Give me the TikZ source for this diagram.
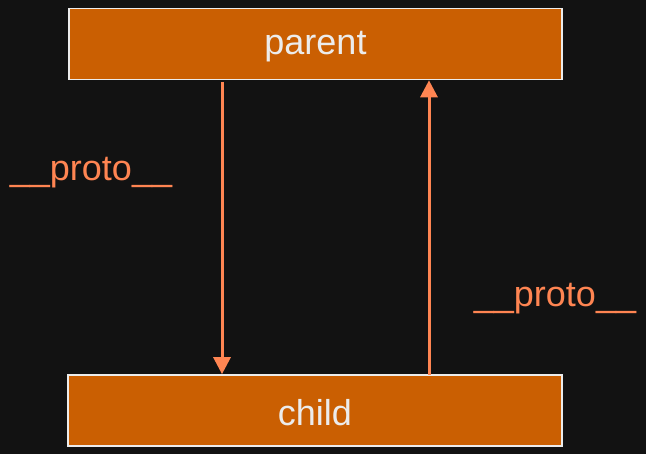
\documentclass[tikz,border=0pt]{standalone}
\usepackage{fontspec}
\setmainfont{Liberation Sans}
\usetikzlibrary{arrows.meta}
\definecolor{bgdark}{HTML}{121212}
\definecolor{boxfill}{HTML}{CA5F02}
\definecolor{boxline}{HTML}{ECECEC}
\definecolor{protocol}{HTML}{FF8552}
\tikzset{
    objbox/.style={rectangle, fill=boxfill, draw=boxline, line width=1.6pt,
        minimum width=493pt, minimum height=71pt, inner sep=0pt},
    objtext/.style={inner sep=0pt, text=boxline, font=\fontsize{36}{40}\selectfont},
    protolabel/.style={text=protocol, inner sep=0pt, font=\fontsize{36}{40}\selectfont},
    protoarrow/.style={draw=protocol, line width=3pt,
        -{Triangle[width=17pt,length=17pt]}}
}

\begin{document}
\begin{tikzpicture}[x=1pt, y=-1pt]
	\fill[bgdark] (0,0) rectangle (646,454);
	\useasboundingbox (0,0) rectangle (646,454);

	\node (parent) [objbox] at (315.5, 44.0) {};
	\node (child) [objbox, minimum width=494pt] at (315.0, 410.5) {};
	\node (parenttext) [objtext] at (315.5, 47.0) {parent};
	\node (childtext) [objtext] at (315.0, 413.0) {child};

	\node (leftproto) [protolabel] at (91.0, 173.0) {\_\_proto\_\_};
	\node (rightproto) [protolabel] at (555.0, 299.0) {\_\_proto\_\_};

	\coordinate (downstart) at (222.0, 82.0);
	\coordinate (upstart) at (429.0, 375.0);

	\draw[protoarrow] (downstart) -- (downstart |- child.north);
	\draw[protoarrow] (upstart) -- (upstart |- parent.south);
\end{tikzpicture}
\end{document}
